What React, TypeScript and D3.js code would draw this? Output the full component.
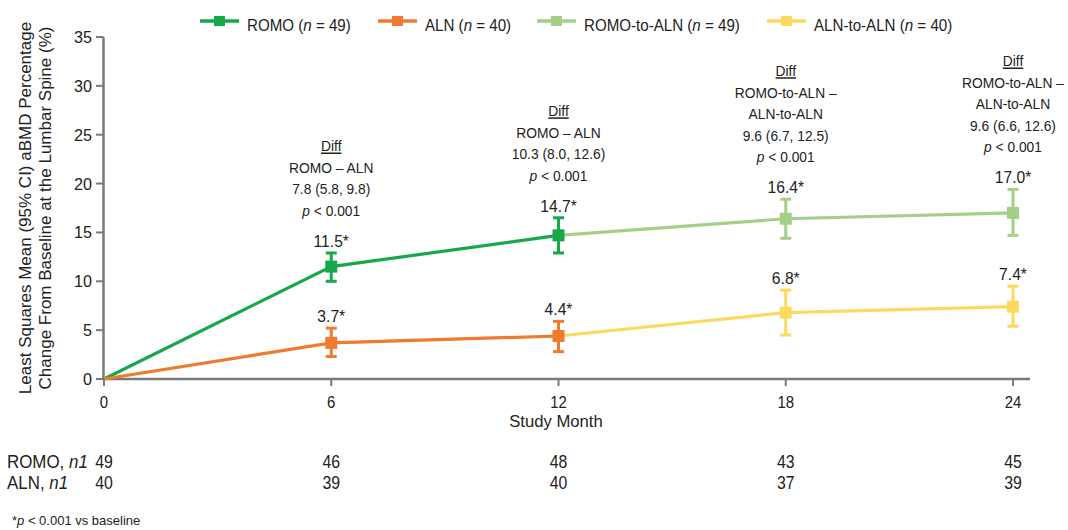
import * as d3 from 'd3';
import type { ReactNode } from 'react';

const months = [0, 6, 12, 18, 24];
const yTicks = [0, 5, 10, 15, 20, 25, 30, 35];

// first year: ROMO vs ALN ; second year: ROMO-to-ALN vs ALN-to-ALN
const romo = [
  { m: 0, v: 0, lo: 0, hi: 0 },
  { m: 6, v: 11.5, lo: 10.0, hi: 12.9 },
  { m: 12, v: 14.7, lo: 12.9, hi: 16.5 },
];
const aln = [
  { m: 0, v: 0, lo: 0, hi: 0 },
  { m: 6, v: 3.7, lo: 2.3, hi: 5.2 },
  { m: 12, v: 4.4, lo: 2.8, hi: 5.9 },
];
const romoToAln = [
  { m: 12, v: 14.7, lo: 12.9, hi: 16.5 },
  { m: 18, v: 16.4, lo: 14.4, hi: 18.4 },
  { m: 24, v: 17.0, lo: 14.7, hi: 19.4 },
];
const alnToAln = [
  { m: 12, v: 4.4, lo: 2.8, hi: 5.9 },
  { m: 18, v: 6.8, lo: 4.5, hi: 9.1 },
  { m: 24, v: 7.4, lo: 5.4, hi: 9.5 },
];

const romoN = [49, 46, 48, 43, 45];
const alnN = [40, 39, 40, 37, 39];

const diffs = [
  { m: 6, group: ['ROMO – ALN'], est: '7.8 (5.8, 9.8)' },
  { m: 12, group: ['ROMO – ALN'], est: '10.3 (8.0, 12.6)' },
  { m: 18, group: ['ROMO-to-ALN –', 'ALN-to-ALN'], est: '9.6 (6.7, 12.5)' },
  { m: 24, group: ['ROMO-to-ALN –', 'ALN-to-ALN'], est: '9.6 (6.6, 12.6)' },
];

const legendItems = [
  { name: 'ROMO', n: 49, color: '#17a84b', x: 200 },
  { name: 'ALN', n: 40, color: '#ee7b2f', x: 378 },
  { name: 'ROMO-to-ALN', n: 49, color: '#a4cf88', x: 537 },
  { name: 'ALN-to-ALN', n: 40, color: '#fdd960', x: 767 },
];

const FONT = '"Liberation Sans", Arial, Helvetica, sans-serif';
const AXIS = '#7a7a7a';
const INK = '#222';

const x = d3.scaleLinear().domain([0, 24]).range([104, 1013]);
const y = d3.scaleLinear().domain([0, 35]).range([379, 37]);

type Pt = { m: number; v: number; lo: number; hi: number };

// condensed text (the source uses a narrow sans face)
function T({ x, y, sx = 0.9, size = 17, anchor = 'start', children, underline }:
  { x: number; y: number; sx?: number; size?: number; anchor?: string; children: ReactNode; underline?: boolean }) {
  return (
    <text
      transform={`translate(${x},${y}) scale(${sx},1)`}
      fontSize={size}
      textAnchor={anchor}
      fill={INK}
      textDecoration={underline ? 'underline' : undefined}
    >
      {children}
    </text>
  );
}

function Series({ data, color, skipFirst }: { data: Pt[]; color: string; skipFirst?: boolean }) {
  const line = d3.line<Pt>().x(d => x(d.m)).y(d => y(d.v));
  const pts = skipFirst ? data.slice(1) : data.filter(d => d.m > 0);
  return (
    <g>
      <path d={line(data) || ''} fill="none" stroke={color} strokeWidth={3.2} />
      {pts.map(d => (
        <g key={d.m}>
          <line x1={x(d.m)} x2={x(d.m)} y1={y(d.lo)} y2={y(d.hi)} stroke={color} strokeWidth={3} />
          <line x1={x(d.m) - 5.5} x2={x(d.m) + 5.5} y1={y(d.lo)} y2={y(d.lo)} stroke={color} strokeWidth={3} />
          <line x1={x(d.m) - 5.5} x2={x(d.m) + 5.5} y1={y(d.hi)} y2={y(d.hi)} stroke={color} strokeWidth={3} />
          <rect x={x(d.m) - 6} y={y(d.v) - 6} width={12} height={12} fill={color} />
          <T x={x(d.m)} y={y(d.hi) - 6} anchor="middle" size={17} sx={0.92}>
            {d.v.toFixed(1)}*
          </T>
        </g>
      ))}
    </g>
  );
}

export default function App() {
  return (
    <svg width={1068} height={530} style={{ display: 'block', position: 'absolute', left: 0, top: 0 }} fontFamily={FONT}>
      <rect width={1068} height={530} fill="#fff" />

      {/* legend */}
      {legendItems.map(l => (
        <g key={l.name}>
          <line x1={l.x} x2={l.x + 39} y1={21} y2={21} stroke={l.color} strokeWidth={3.5} />
          <rect x={l.x + 14} y={16} width={11} height={10} fill={l.color} />
          <T x={l.x + 47} y={31} size={17} sx={0.89}>
            {l.name} (<tspan fontStyle="italic">n</tspan> = {l.n})
          </T>
        </g>
      ))}

      {/* y axis */}
      <line x1={103.5} x2={103.5} y1={y(35)} y2={y(0) + 1} stroke={AXIS} strokeWidth={2.5} />
      {yTicks.map(t => (
        <g key={t}>
          <line x1={96} x2={103.5} y1={y(t)} y2={y(t)} stroke={AXIS} strokeWidth={2} />
          <T x={92} y={y(t) + 6} anchor="end" size={17} sx={0.95}>{t}</T>
        </g>
      ))}
      <g transform={`translate(0, ${y(17.5)}) rotate(-90)`} fontSize={17} fill={INK} textAnchor="middle">
        <text x={0} y={31}>Least Squares Mean (95% CI) aBMD Percentage</text>
        <text x={0} y={51}>Change From Baseline at the Lumbar Spine (%)</text>
      </g>

      {/* x axis */}
      <line x1={102} x2={1030} y1={y(0)} y2={y(0)} stroke={AXIS} strokeWidth={2.5} />
      {months.map(m => (
        <g key={m}>
          <line x1={x(m)} x2={x(m)} y1={y(0)} y2={y(0) + 7} stroke={AXIS} strokeWidth={2} />
          <T x={x(m)} y={408} anchor="middle" size={17} sx={0.88}>{m}</T>
        </g>
      ))}
      <T x={556} y={427} anchor="middle" size={17} sx={0.98}>Study Month</T>

      {/* series */}
      <Series data={romoToAln} color={legendItems[2].color} skipFirst />
      <Series data={alnToAln} color={legendItems[3].color} skipFirst />
      <Series data={romo} color={legendItems[0].color} />
      <Series data={aln} color={legendItems[1].color} />

      {/* difference annotations */}
      {diffs.map(d => {
        const top = romoToAln.concat(romo).find(p => p.m === d.m)!;
        const pY = y(top.hi) - 37;
        const lh = 21.5;
        const rows = d.group.length + 2;
        const startY = pY - rows * lh;
        return (
          <g key={d.m}>
            <T x={x(d.m)} y={startY} anchor="middle" size={15} sx={0.92} underline>Diff</T>
            {d.group.map((g, i) => (
              <T key={i} x={x(d.m)} y={startY + (i + 1) * lh} anchor="middle" size={15} sx={0.92}>{g}</T>
            ))}
            <T x={x(d.m)} y={startY + (d.group.length + 1) * lh} anchor="middle" size={15} sx={0.92}>{d.est}</T>
            <T x={x(d.m)} y={pY} anchor="middle" size={15} sx={0.92}>
              <tspan fontStyle="italic">p</tspan> &lt; 0.001
            </T>
          </g>
        );
      })}

      {/* n per visit */}
      <T x={7} y={468} size={18} sx={0.94}>ROMO, <tspan fontStyle="italic">n1</tspan></T>
      <T x={7} y={489} size={18} sx={0.94}>ALN, <tspan fontStyle="italic">n1</tspan></T>
      {months.map((m, i) => (
        <g key={m}>
          <T x={x(m)} y={468} anchor="middle" size={18} sx={0.88}>{romoN[i]}</T>
          <T x={x(m)} y={489} anchor="middle" size={18} sx={0.88}>{alnN[i]}</T>
        </g>
      ))}

      <text x={12} y={525} fontSize={13} fill={INK}>
        *<tspan fontStyle="italic">p</tspan> &lt; 0.001 vs baseline
      </text>
    </svg>
  );
}
